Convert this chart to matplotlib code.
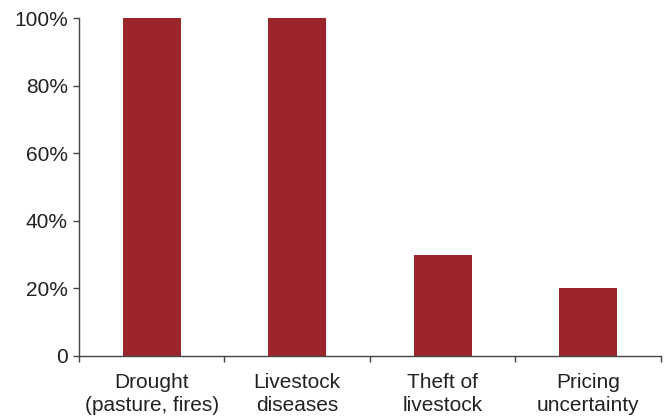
import numpy as np
import matplotlib.pyplot as plt
from matplotlib.ticker import FuncFormatter

# share of respondents naming each risk
categories = ['Drought\n(pasture, fires)', 'Livestock\ndiseases', 'Theft of\nlivestock', 'Pricing\nuncertainty']
shares = [100, 100, 30, 20]

plt.rcParams['font.family'] = ['Liberation Sans', 'DejaVu Sans']

fig = plt.figure(figsize=(6.67, 4.2), dpi=100)
ax = fig.add_axes([0.1184, 0.1524, 0.8726, 0.8046])

x = np.arange(len(categories))
ax.bar(x, shares, width=0.4, color='#9b252b')

ax.set_xlim(-0.5, len(categories) - 0.5)
ax.set_ylim(0, 100)

# labels centred under bars, tick marks on category boundaries
ax.set_xticks(x)
ax.set_xticklabels(categories, fontsize=15, color='#222222', linespacing=1.3)
ax.tick_params(axis='x', which='major', length=0, pad=12)
ax.set_xticks(np.arange(-0.5, len(categories)), minor=True)
ax.tick_params(axis='x', which='minor', length=4, width=1, color='#444444')

ax.set_yticks(np.arange(0, 101, 20))
ax.yaxis.set_major_formatter(FuncFormatter(lambda v, p: '0' if v == 0 else f'{v:.0f}%'))
ax.tick_params(axis='y', length=4, width=1, color='#444444', labelsize=15, labelcolor='#222222', pad=4)

for side in ['top', 'right']:
    ax.spines[side].set_visible(False)
for side in ['left', 'bottom']:
    ax.spines[side].set_color('#444444')
    ax.spines[side].set_linewidth(1)

fig.savefig('out.png', dpi=100)
